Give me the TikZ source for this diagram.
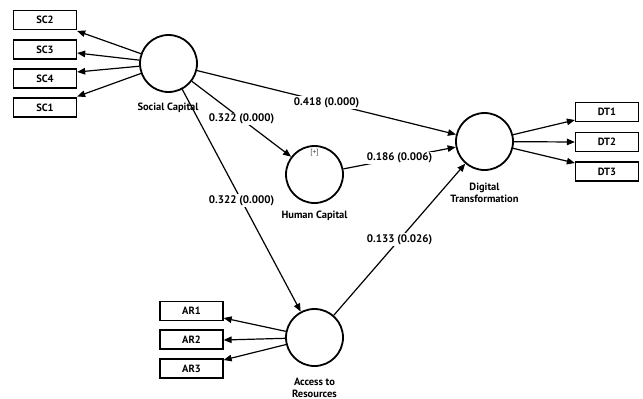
\documentclass[tikz,border=0pt]{standalone}
\usepackage{fontspec}
\setmainfont{PT Sans}
\usetikzlibrary{arrows.meta,calc}
\begin{document}
\begin{tikzpicture}[x=1pt,y=-1pt,
  lv/.style={circle,draw,line width=1.8pt,minimum size=57pt,inner sep=0pt},
  ind/.style={draw,line width=1.3pt,minimum width=63pt,minimum height=19pt,inner sep=0pt,font=\bfseries\fontsize{10.5}{12}\selectfont},
  arr/.style={line width=1.2pt,-{Triangle[length=8pt,width=6.5pt]}},
  coef/.style={fill=white,inner sep=1.2pt,font=\bfseries\fontsize{11}{12}\selectfont},
  lbl/.style={align=center,font=\bfseries\fontsize{10.5}{11.5}\selectfont},
  plus/.style={font=\fontsize{7.5}{8}\selectfont,text=black!75}]
\useasboundingbox[fill=white] (0,0) rectangle (643,399);
% latent variables
\node[lv] (sc) at (168.5,63.5) {};
\node[lv] (hc) at (314.5,174.5) {};
\node[lv] (dt) at (484.5,141.5) {};
\node[lv] (ar) at (314.5,337.5) {};
% latent labels
\node[lbl] (sclab) at (168,108) {Social Capital};
\node[lbl] (hclab) at (314.5,216) {Human Capital};
\node[lbl] (dtlab) at (484.5,193) {Digital\\Transformation};
\node[lbl] (arlab) at (314.5,388) {Access to\\Resources};
\node[plus] (hcplus) at (314.5,153) {[+]};
% indicators
\node[ind] (sc2) at (45,20) {SC2};
\node[ind] (sc3) at (45,49.5) {SC3};
\node[ind] (sc4) at (45,78.5) {SC4};
\node[ind] (sc1) at (45,107.5) {SC1};
\node[ind] (dt1) at (607,112) {DT1};
\node[ind] (dt2) at (607,142) {DT2};
\node[ind] (dt3) at (607,171.5) {DT3};
\node[ind] (ar1) at (191.5,311) {AR1};
\node[ind] (ar2) at (191.5,339.5) {AR2};
\node[ind] (ar3) at (191.5,368.5) {AR3};
% outer loadings arrows
\draw[arr] (sc) -- ($(sc2.east)+(0,11)$);
\draw[arr] (sc) -- ($(sc3.east)+(0,3.5)$);
\draw[arr] (sc) -- ($(sc4.east)+(0,-6.5)$);
\draw[arr] (sc) -- ($(sc1.east)+(0,-11)$);
\draw[arr] (dt) -- ($(dt1.west)+(0,8)$);
\draw[arr] (dt) -- (dt2.west);
\draw[arr] (dt) -- ($(dt3.west)+(0,-8.5)$);
\draw[arr] (ar) -- ($(ar1.east)+(0,7)$);
\draw[arr] (ar) -- ($(ar2.east)+(0,0.5)$);
\draw[arr] (ar) -- ($(ar3.east)+(0,-8.5)$);
% structural paths
\draw[arr] (sc) -- node[coef] {0.418 (0.000)} (dt);
\draw[arr] (sc) -- node[coef] {0.322 (0.000)} (hc);
\draw[arr] (sc) -- node[coef] {0.322 (0.000)} (ar);
\draw[arr] (hc) -- node[coef] {0.186 (0.006)} (dt);
\draw[arr] (ar) -- node[coef] {0.133 (0.026)} (dt);
\end{tikzpicture}
\end{document}
